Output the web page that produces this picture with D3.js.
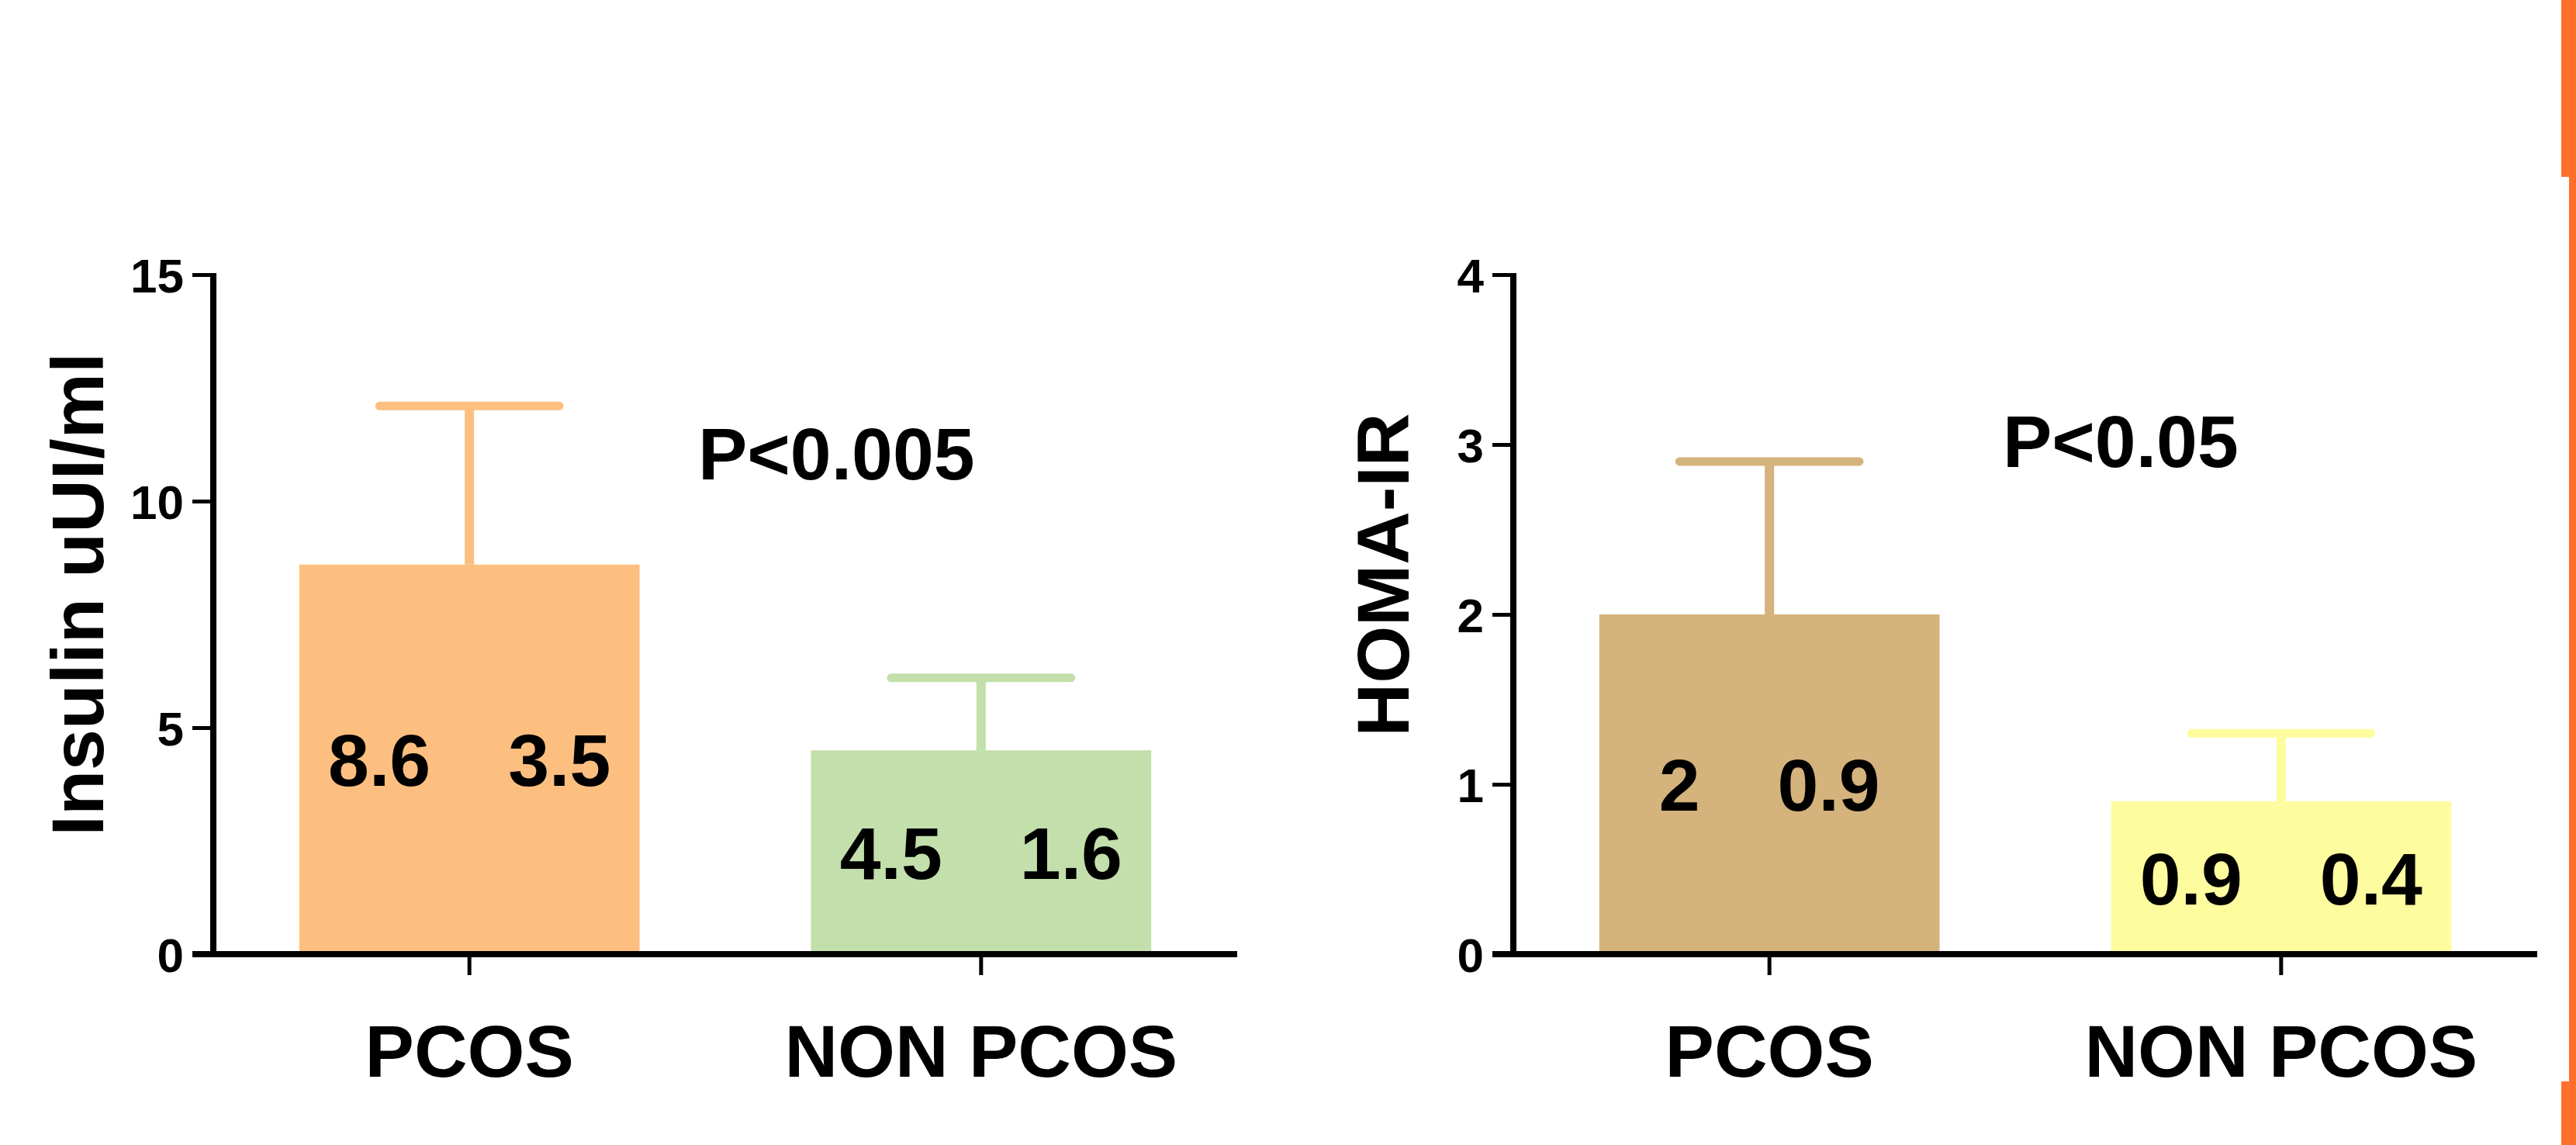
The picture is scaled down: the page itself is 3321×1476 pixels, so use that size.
<!DOCTYPE html>
<html>
<head>
<meta charset="utf-8">
<script src="https://cdn.jsdelivr.net/npm/d3@7"></script>
<style>
  html, body { margin: 0; padding: 0; background: #fff; }
  svg { display: block; }
  text { font-family: "Liberation Sans", Arial, sans-serif; font-weight: bold; fill: #000; }
</style>
</head>
<body>
<script>
// data
var categories = ["PCOS", "NON PCOS"];
var insulinMean = [8.6, 4.5];
var insulinSD = [3.5, 1.6];
var insulinTicks = [0, 5, 10, 15];
var homaMean = [2, 0.9];
var homaSD = [0.9, 0.4];
var homaTicks = [0, 1, 2, 3, 4];

var W = 3321, H = 1476;
var svg = d3.select("body").append("svg")
    .attr("width", W)
    .attr("height", H);

function drawChart(opt) {
    var x = d3.scaleBand()
        .domain(categories)
        .range([opt.left, opt.left + 1320])
        .paddingInner(0.335)
        .paddingOuter(0.168);
    var y = d3.scaleLinear()
        .domain([0, opt.max])
        .range([1230, 354]);
    var bw = x.bandwidth();
    var rows = categories.map(function (c, i) {
        return { cat: c, mean: opt.mean[i], sd: opt.sd[i], color: opt.colors[i] };
    });
    var g = svg.append("g");

    // bars
    g.selectAll("rect.bar").data(rows).enter().append("rect")
        .attr("class", "bar")
        .attr("x", function (d) { return x(d.cat); })
        .attr("y", function (d) { return y(d.mean); })
        .attr("width", bw)
        .attr("height", function (d) { return y(0) - y(d.mean); })
        .attr("fill", function (d) { return d.color; });

    // error bars (upper only)
    g.selectAll("line.err").data(rows).enter().append("line")
        .attr("class", "err")
        .attr("x1", function (d) { return x(d.cat) + bw / 2; })
        .attr("x2", function (d) { return x(d.cat) + bw / 2; })
        .attr("y1", function (d) { return y(d.mean); })
        .attr("y2", function (d) { return y(d.mean + d.sd); })
        .attr("stroke", function (d) { return d.color; })
        .attr("stroke-width", 12);
    g.selectAll("line.cap").data(rows).enter().append("line")
        .attr("class", "cap")
        .attr("x1", function (d) { return x(d.cat) + bw / 2 - bw * 0.264; })
        .attr("x2", function (d) { return x(d.cat) + bw / 2 + bw * 0.264; })
        .attr("y1", function (d) { return y(d.mean + d.sd); })
        .attr("y2", function (d) { return y(d.mean + d.sd); })
        .attr("stroke", function (d) { return d.color; })
        .attr("stroke-width", 11)
        .attr("stroke-linecap", "round");

    // mean and SD written inside each bar
    var vt = g.selectAll("text.val").data(rows).enter().append("text")
        .attr("class", "val")
        .attr("x", function (d) { return x(d.cat) + bw / 2; })
        .attr("y", function (d) { return (y(d.mean) + y(0)) / 2; })
        .attr("dy", "0.36em")
        .attr("text-anchor", "middle")
        .attr("font-size", 95);
    vt.append("tspan").text(function (d) { return String(d.mean); });
    vt.append("tspan").attr("dx", 100).text(function (d) { return String(d.sd); });

    // y axis
    var ya = g.append("g")
        .attr("transform", "translate(" + opt.left + ",0)")
        .call(d3.axisLeft(y).tickValues(opt.ticks).tickFormat(d3.format("d"))
            .tickSize(27).tickSizeOuter(0).tickPadding(11));
    ya.select(".domain").attr("stroke", "#000").attr("stroke-width", 8)
        .attr("d", "M0,1234V352");
    ya.selectAll(".tick line").attr("stroke", "#000").attr("stroke-width", 5);
    ya.selectAll(".tick text").attr("font-size", 62).attr("dy", "0.36em")
        .attr("font-family", "Liberation Sans, Arial, sans-serif").attr("font-weight", "bold");

    // x axis
    var xa = g.append("g")
        .attr("transform", "translate(0," + y(0) + ")")
        .call(d3.axisBottom(x).tickSize(27).tickSizeOuter(0));
    xa.select(".domain").attr("stroke", "#000").attr("stroke-width", 8)
        .attr("d", "M" + (opt.left - 27) + ",0H" + (opt.left + 1320));
    xa.selectAll(".tick line").attr("stroke", "#000").attr("stroke-width", 5);
    xa.selectAll(".tick text").attr("font-size", 95).attr("dy", null).attr("y", 158)
        .attr("font-family", "Liberation Sans, Arial, sans-serif").attr("font-weight", "bold");

    // y axis title
    g.append("text")
        .attr("transform", "translate(" + (opt.left - opt.titleOff) + "," + opt.titleY + ") rotate(-90)")
        .attr("text-anchor", "middle")
        .attr("font-size", 95)
        .text(opt.title);

    // p value
    g.append("text")
        .attr("x", opt.left + opt.pX)
        .attr("y", opt.pY)
        .attr("font-size", 95)
        .text(opt.p);
}

drawChart({
    left: 275, max: 15, mean: insulinMean, sd: insulinSD, ticks: insulinTicks,
    colors: ["#fdbf80", "#c3dfab"], title: "Insulin uUI/ml", titleOff: 142, titleY: 766,
    p: "P<0.005", pX: 625, pY: 618
});
drawChart({
    left: 1951, max: 4, mean: homaMean, sd: homaSD, ticks: homaTicks,
    colors: ["#d4b37c", "#fdfd9f"], title: "HOMA-IR", titleOff: 135, titleY: 741,
    p: "P<0.05", pX: 631, pY: 602
});

// orange slide border on the right edge
svg.append("rect").attr("x", 3302).attr("y", 0).attr("width", 19).attr("height", 228).attr("fill", "#ff6f2b");
svg.append("rect").attr("x", 3312).attr("y", 0).attr("width", 9).attr("height", H).attr("fill", "#ff6f2b");
svg.append("rect").attr("x", 3302).attr("y", 1394).attr("width", 19).attr("height", 82).attr("fill", "#ff6f2b");
</script>
</body>
</html>
